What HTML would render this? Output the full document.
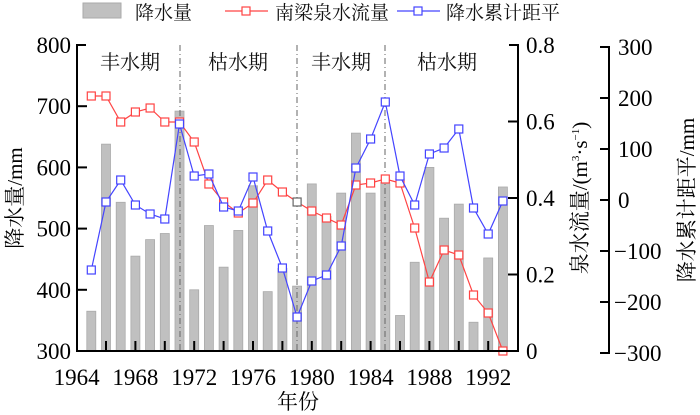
<!DOCTYPE html>
<html><head><meta charset="utf-8"><style>body{margin:0;background:#fff}svg{display:block}</style></head><body>
<svg id="c" width="700" height="415" xmlns="http://www.w3.org/2000/svg" font-family="Liberation Serif, serif">
<g id="bars"></g>
<g stroke="#666" stroke-width="1" stroke-dasharray="6,3,1,3">
<line x1="180" y1="45" x2="180" y2="351"/>
<line x1="297" y1="45" x2="297" y2="351"/>
<line x1="385" y1="45" x2="385" y2="351"/>
</g>
<g font-family="Noto Serif CJK SC, serif" font-size="20" fill="#111" text-anchor="middle">
<text x="130" y="69">丰水期</text>
<text x="238" y="69">枯水期</text>
<text x="341" y="69">丰水期</text>
<text x="447" y="69">枯水期</text>
</g>
<g id="lines"></g>
<g stroke="#000" stroke-width="2" fill="none">
<polyline points="86,45 77,45 77,351 518,351 518,45 509,45"/>
<polyline points="600,47 609,47 609,353 600,353"/>
</g>
<g id="ticks" stroke="#000" stroke-width="2"></g>
<g font-size="23" fill="#000" id="labels"></g>
<g font-family="Liberation Serif, Noto Serif CJK SC, serif" font-size="21" fill="#000">
<text x="298" y="409" text-anchor="middle">年份</text>
<text transform="translate(22,198) rotate(-90)" text-anchor="middle">降水量/mm</text>
<text transform="translate(587,198) rotate(-90)" text-anchor="middle">泉水流量/(m<tspan font-size="11" dy="-8">3</tspan><tspan dy="8">·s</tspan><tspan font-size="11" dy="-8">−1</tspan><tspan dy="8">)</tspan></text>
<text transform="translate(694,200) rotate(-90)" text-anchor="middle">降水累计距平/mm</text>
</g>
<g font-family="Noto Serif CJK SC, serif" font-size="19" fill="#111">
<rect x="83" y="3" width="38" height="15" fill="#c0c0c0" stroke="#aaa"/>
<text x="135" y="19">降水量</text>
<line x1="225" y1="11" x2="268" y2="11" stroke="#f44" stroke-width="1.2"/>
<rect x="242" y="7" width="8" height="8" fill="#fff" stroke="#f44" stroke-width="1.2"/>
<text x="275" y="19">南梁泉水流量</text>
<line x1="397" y1="11" x2="440" y2="11" stroke="#44f" stroke-width="1.2"/>
<rect x="414" y="7" width="8" height="8" fill="#fff" stroke="#44f" stroke-width="1.2"/>
<text x="446" y="19">降水累计距平</text>
</g>
<script>
var ns="http://www.w3.org/2000/svg";
function X(y){return 76.6+(y-1964)*14.7;}
function el(p,t,a,txt){var e=document.createElementNS(ns,t);for(var k in a)e.setAttribute(k,a[k]);if(txt)e.textContent=txt;document.getElementById(p).appendChild(e);}
var pr=[365,638,543,455,482,492,692,400,505,437,497,570,397,435,406,573,520,558,656,558,575,358,445,600,517,540,347,452,568];
pr.forEach(function(v,i){var y=351-(v-300)*0.612;el("bars","rect",{x:X(1965+i)-4.5,y:y,width:9,height:351-y,fill:"#c0c0c0",stroke:"#aaa","stroke-width":0.8});});
var bl=[270,202,180,205,214,219,124,176,174,207,211,177,231,268,317,281,275,246,168,139,102,176,205,154,148,129,208,234,201];
var rd=[96,96,122,112,108,122,122,142,184,202,213,203,180,192,202,211,218,225,185,183,179,183,228,282,250,255,295,313,351];
function line(d,c){var pts=d.map(function(v,i){return X(1965+i)+","+v;}).join(" ");
el("lines","polyline",{points:pts,fill:"none",stroke:c,"stroke-width":1.2});
d.forEach(function(v,i){el("lines","rect",{x:X(1965+i)-4,y:v-4,width:8,height:8,fill:"#fff",stroke:(c=="#f44"&&i==14)?"#666":c,"stroke-width":1.2});});}
line(rd,"#f44");line(bl,"#44f");
for(var y=1966;y<=1993;y+=2)el("ticks","line",{x1:X(y),y1:351,x2:X(y),y2:341});
for(var v=400;v<800;v+=100){var yy=351-(v-300)*0.612;el("ticks","line",{x1:77,y1:yy,x2:87,y2:yy});}
[0.2,0.4,0.6].forEach(function(v){var yy=351-v*382.5;el("ticks","line",{x1:518,y1:yy,x2:508,y2:yy});});
for(var k=-200;k<=200;k+=100){var yy=200-k*0.51;el("ticks","line",{x1:609,y1:yy,x2:600,y2:yy});}
for(var v=300;v<=800;v+=100)el("labels","text",{x:71,y:351-(v-300)*0.612+8,"text-anchor":"end"},String(v));
["0","0.2","0.4","0.6","0.8"].forEach(function(s,i){el("labels","text",{x:526,y:351-i*76.5+8},s);});
for(var k=-300;k<=300;k+=100)el("labels","text",{x:k<0?614:618,y:200-k*0.51+8},k<0?"−"+(-k):String(k));
for(var y=1964;y<=1992;y+=4)el("labels","text",{x:X(y),y:385,"text-anchor":"middle"},String(y));
</script>
</svg>
</body></html>
